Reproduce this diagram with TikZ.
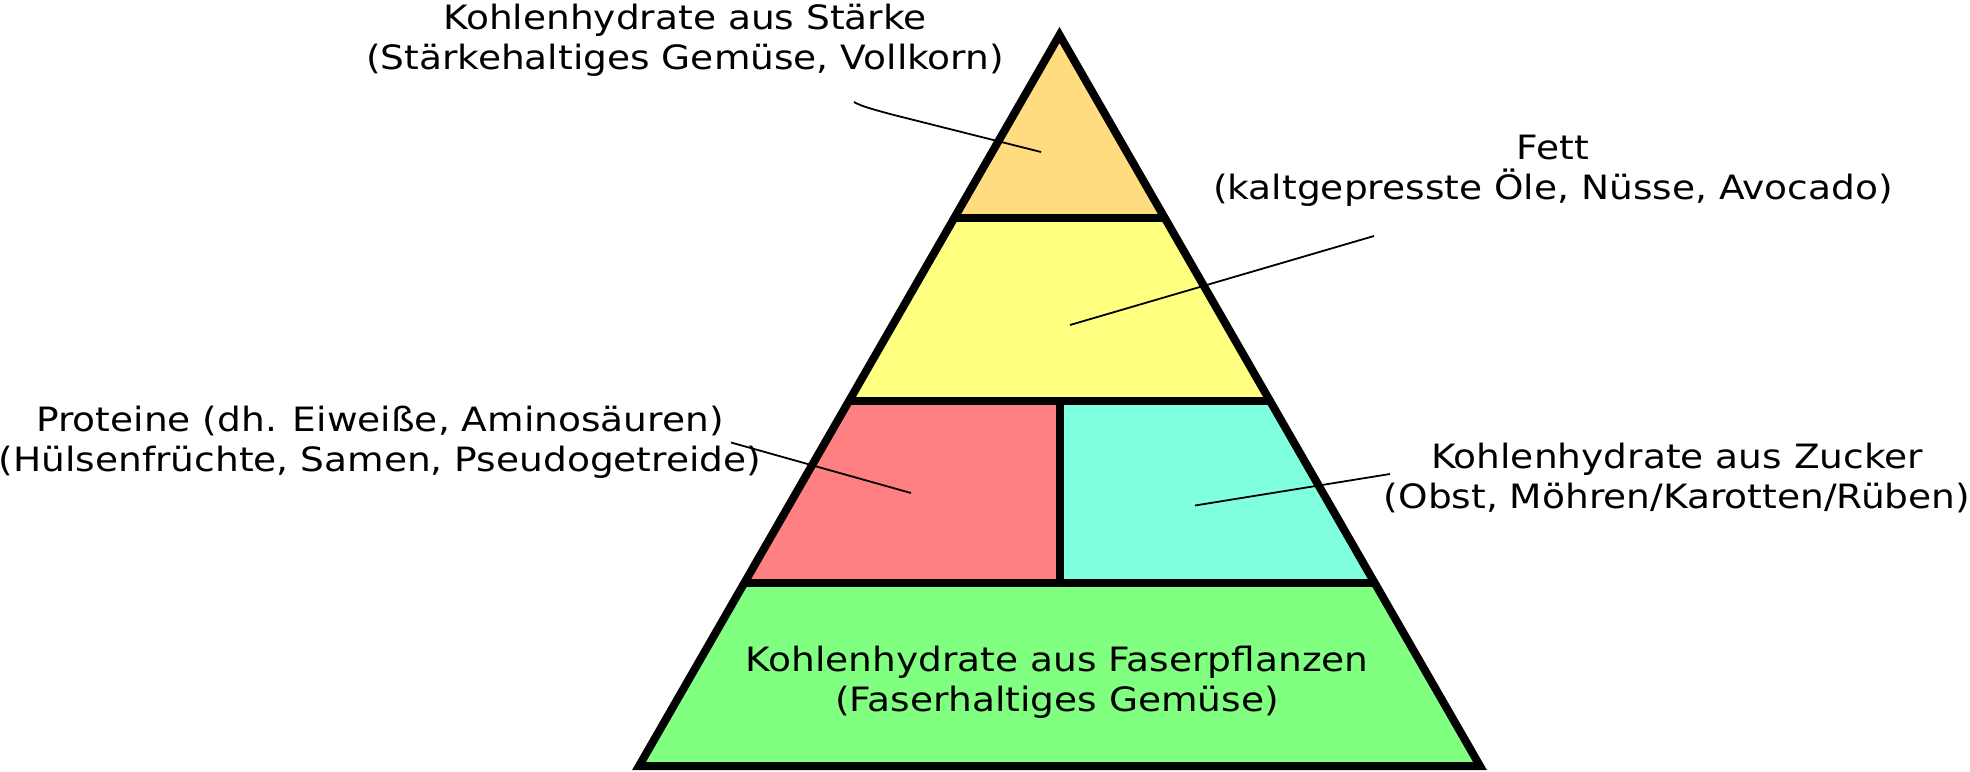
\documentclass[tikz,border=0pt]{standalone}
\usepackage{fontspec}
\setmainfont{DejaVu Sans}[FakeStretch=1.12]
\usetikzlibrary{calc}
\definecolor{cStaerke}{RGB}{255,220,128}
\definecolor{cFett}{RGB}{255,255,128}
\definecolor{cProtein}{RGB}{255,128,128}
\definecolor{cZucker}{RGB}{128,255,223}
\definecolor{cFaser}{RGB}{128,255,128}
\begin{document}
\begin{tikzpicture}[x=1pt,y=-1pt,
  lbl/.style={font=\fontsize{33.5}{40}\selectfont, align=center, inner sep=0pt, anchor=north},
  frame/.style={line width=8pt, line join=miter},
  leader/.style={line width=1.8pt}]
\useasboundingbox (0,0) rectangle (1970,771);
% pyramid geometry
\coordinate (A) at (1059.5,35);
\coordinate (BL) at (639,766);
\coordinate (BR) at (1480,766);
\coordinate (L1) at ($(A)!0.25!(BL)$);
\coordinate (L2) at ($(A)!0.5!(BL)$);
\coordinate (L3) at ($(A)!0.75!(BL)$);
\coordinate (R1) at ($(A)!0.25!(BR)$);
\coordinate (R2) at ($(A)!0.5!(BR)$);
\coordinate (R3) at ($(A)!0.75!(BR)$);
\coordinate (M2) at ($(L2)!0.5!(R2)$);
\coordinate (M3) at ($(L3)!0.5!(R3)$);
% bands
\fill[cStaerke] (A) -- (L1) -- (R1) -- cycle;
\fill[cFett] (L1) -- (L2) -- (R2) -- (R1) -- cycle;
\fill[cProtein] (L2) -- (L3) -- (M3) -- (M2) -- cycle;
\fill[cZucker] (M2) -- (M3) -- (R3) -- (R2) -- cycle;
\fill[cFaser] (L3) -- (BL) -- (BR) -- (R3) -- cycle;
\draw[frame] (L1) -- (R1) (L2) -- (R2) (L3) -- (R3) (M2) -- (M3);
\draw[frame] (A) -- (BL) -- (BR) -- cycle;
% labels
\node[lbl] (staerke) at (685,3.5) {Kohlenhydrate aus Stärke\\(Stärkehaltiges Gemüse, Vollkorn)};
\node[lbl] (fett) at (1553,134.6) {Fett\\(kaltgepresste Öle, Nüsse, Avocado)};
\node[lbl] (protein) at (380,406.2) {Proteine (dh. Eiweiße, Aminosäuren)\\(Hülsenfrüchte, Samen, Pseudogetreide)};
\node[lbl] (zucker) at (1677,442.5) {Kohlenhydrate aus Zucker\\(Obst, Möhren/Karotten/Rüben)};
\node[lbl] (faser) at (1057,645.5) {Kohlenhydrate aus Faserpflanzen\\(Faserhaltiges Gemüse)};
% leader lines
\coordinate (s1) at (854,102);
\coordinate (s2) at (1041,152);
\coordinate (f1) at (1374,236);
\coordinate (f2) at (1070,325);
\coordinate (p1) at (731,442.5);
\coordinate (p2) at (911,493);
\coordinate (z1) at (1390,474);
\coordinate (z2) at (1195,505.5);
\draw[leader] (s1) .. controls (862,106.5) and (872,109) .. (890,114) -- (s2);
\draw[leader] (f1) -- (f2);
\draw[leader] (p1) -- (p2);
\draw[leader] (z1) -- (z2);
\end{tikzpicture}
\end{document}
